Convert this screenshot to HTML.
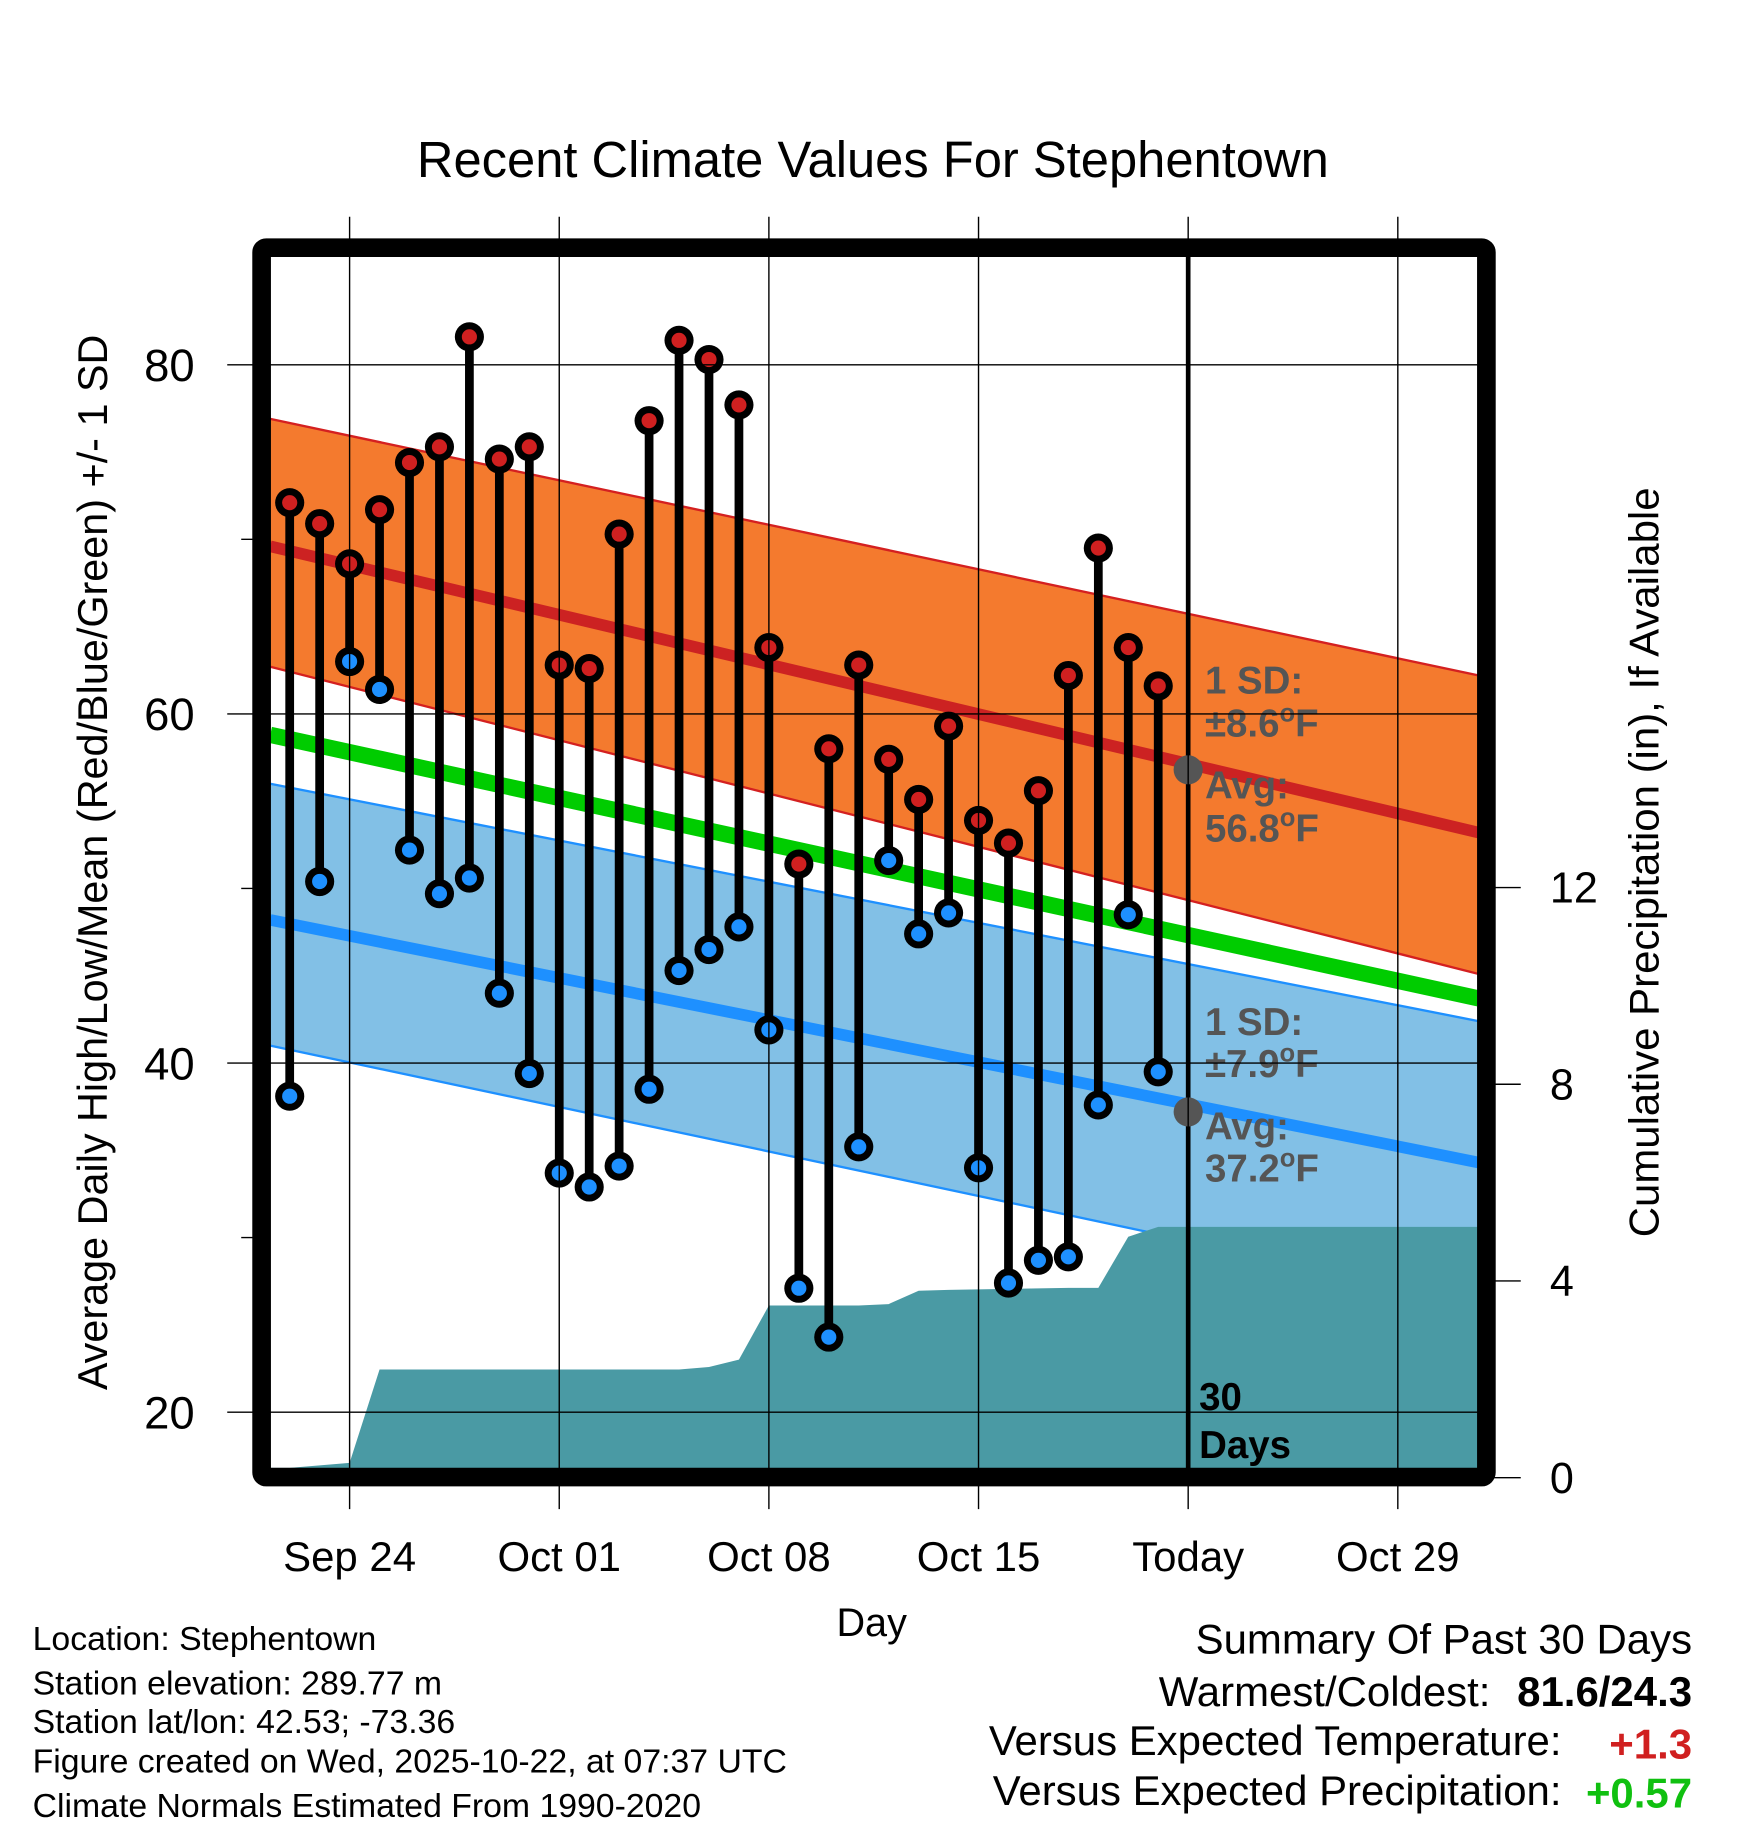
<!DOCTYPE html>
<html><head><meta charset="utf-8"><style>
html,body{margin:0;padding:0;background:#fff;}
svg{display:block;font-family:"Liberation Sans",Arial,sans-serif;}
</style></head><body>
<svg id="chart" width="1748" height="1828" viewBox="0 0 1500 1568.6" xmlns="http://www.w3.org/2000/svg">
<defs><clipPath id="plotclip"><rect x="232" y="220" width="1036" height="1040"/></clipPath></defs>
<text x="749" y="152" font-size="43.5" text-anchor="middle">Recent Climate Values For Stephentown</text>
<g id="plot" clip-path="url(#plotclip)"></g>
<g id="axes"></g>
<rect x="224.5" y="212.5" width="1051" height="1055" fill="none" stroke="#000" stroke-width="16" rx="4"/>
<text x="748" y="1404" font-size="34" text-anchor="middle">Day</text>
<text transform="translate(92,740) rotate(-90)" font-size="35.5" text-anchor="middle">Average Daily High/Low/Mean (Red/Blue/Green) +/- 1 SD</text>
<text transform="translate(1423,740) rotate(-90)" font-size="36" text-anchor="middle">Cumulative Precipitation (in), If Available</text>
<g font-size="29">
<text x="28" y="1416">Location: Stephentown</text>
<text x="28" y="1454">Station elevation: 289.77 m</text>
<text x="28" y="1487">Station lat/lon: 42.53; -73.36</text>
<text x="28" y="1521">Figure created on Wed, 2025-10-22, at 07:37 UTC</text>
<text x="28" y="1559">Climate Normals Estimated From 1990-2020</text>
</g>
<g font-size="36" text-anchor="end">
<text x="1452" y="1419">Summary Of Past 30 Days</text>
<text x="1279" y="1464">Warmest/Coldest:</text>
<text x="1452" y="1464" font-weight="bold">81.6/24.3</text>
<text x="1340" y="1506">Versus Expected Temperature:</text>
<text x="1452" y="1509" font-weight="bold" fill="#d02020">+1.3</text>
<text x="1340" y="1549">Versus Expected Precipitation:</text>
<text x="1452" y="1551" font-weight="bold" fill="#10c010">+0.57</text>
</g>
<script>
// day index: 0 = Sep 24
const days = [-2,-1,0,1,2,3,4,5,6,7,8,9,10,11,12,13,14,15,16,17,18,19,20,21,22,23,24,25,26,27];
const highs = [72.1,70.9,68.6,71.7,74.4,75.3,81.6,74.6,75.3,62.8,62.6,70.3,76.8,81.4,80.3,77.7,63.8,51.4,58.0,62.8,57.4,55.1,59.3,53.9,52.6,55.6,62.2,69.5,63.8,61.6];
const lows = [38.1,50.4,63.0,61.4,52.2,49.7,50.6,44.0,39.4,33.7,32.9,34.1,38.5,45.3,46.5,47.8,41.9,27.1,24.3,35.2,51.6,47.4,48.6,34.0,27.4,28.7,28.9,37.6,48.5,39.5];
const precip = [0.2,0.25,0.3,2.2,2.2,2.2,2.2,2.2,2.2,2.2,2.2,2.2,2.2,2.2,2.25,2.4,3.5,3.5,3.5,3.5,3.53,3.8,3.82,3.83,3.84,3.85,3.86,3.86,4.9,5.1];
const normDays = [-2.65, 37.7];
const hiAvg = [69.6, 53.2];
const hiUpper = [76.9, 62.2];
const hiLower = [62.7, 45.1];
const meanAvg = [58.8, 43.7];
const loAvg = [48.2, 34.3];
const loUpper = [56.0, 42.4];
const loLower = [41.0, 26.3];
const xTickDays = [0,7,14,21,28,35];
const xTickLabels = ["Sep 24","Oct 01","Oct 08","Oct 15","Today","Oct 29"];
const yTicks = [20,40,60,80];
const yMinor = [30,50,70];
const pTicks = [0,4,8,12];
const todayDay = 28;
const todayHiAvg = 56.8, todayLoAvg = 37.2;
const hiSD = 8.6, loSD = 7.9;

const NS="http://www.w3.org/2000/svg";
const X=d=>300+d*25.7;
const Y=t=>313+(80-t)*14.98;
const YP=p=>1268-p*42.2;
const plot=document.getElementById('plot'), axes=document.getElementById('axes');
function mk(tag,attrs,parent){const e=document.createElementNS(NS,tag);for(const k in attrs)e.setAttribute(k,attrs[k]);parent.appendChild(e);return e;}
function band(up,lo,fill,edge,name){
  const pts=normDays.map((d,i)=>X(d)+','+Y(up[i])).concat(normDays.map((d,i)=>X(d)+','+Y(lo[i])).reverse());
  const p=mk('polygon',{points:pts.join(' '),fill:fill},plot);
  
  
  [up,lo].forEach(a=>{const l=mk('line',{x1:X(normDays[0]),y1:Y(a[0]),x2:X(normDays[1]),y2:Y(a[1]),stroke:edge,'stroke-width':2},plot);
    
    });
}
function avgLine(a,color,w,name){
  const l=mk('line',{x1:X(normDays[0]),y1:Y(a[0]),x2:X(normDays[1]),y2:Y(a[1]),stroke:color,'stroke-width':w},plot);
  
  
}
band(hiUpper,hiLower,'#f47a2e','#d42020','high-sd-band');
band(loUpper,loLower,'#82c0e6','#1e90ff','low-sd-band');
avgLine(hiAvg,'#cc2222',10,'high-avg-line');
avgLine(meanAvg,'#00cc00',14,'mean-avg-line');
avgLine(loAvg,'#1e90ff',10,'low-avg-line');
xTickDays.forEach(d=>{const g=mk('line',{x1:X(d),y1:186,x2:X(d),y2:1295,stroke:'#000','stroke-width':1.2},axes);
  
  });
yTicks.forEach(t=>{const g=mk('line',{x1:195,y1:Y(t),x2:1268,y2:Y(t),stroke:'#000','stroke-width':1.2},axes);
  
  
  const tx=mk('text',{x:167,y:Y(t)+14,'font-size':39,'text-anchor':'end'},axes);tx.textContent=t;
  
  });
yMinor.forEach(t=>{const g=mk('line',{x1:207,y1:Y(t),x2:224,y2:Y(t),stroke:'#000','stroke-width':1.2},axes);
  
  });
pTicks.forEach(p=>{const g=mk('line',{x1:1280,y1:YP(p),x2:1305,y2:YP(p),stroke:'#000','stroke-width':1.2},axes);
  
  
  const tx=mk('text',{x:1330,y:YP(p)+13,'font-size':37},axes);tx.textContent=p;
  
  });
xTickDays.forEach((d,i)=>{const tx=mk('text',{x:X(d),y:1348,'font-size':36,'text-anchor':'middle'},axes);tx.textContent=xTickLabels[i];
  
  });
let pp=[X(normDays[0])+','+YP(precip[0])];
days.forEach((d,i)=>pp.push(X(d)+','+YP(precip[i])));
pp.push(X(normDays[1])+','+YP(precip[precip.length-1]));
pp.push(X(normDays[1])+',1300');pp.push(X(normDays[0])+',1300');
const pa=mk('polygon',{points:pp.join(' '),fill:'#4a9aa4'},plot);


const tl=mk('line',{x1:X(todayDay),y1:220,x2:X(todayDay),y2:1262,stroke:'#000','stroke-width':4},plot);


days.forEach((d,i)=>{
  const s=mk('line',{x1:X(d),y1:Y(highs[i]),x2:X(d),y2:Y(lows[i]),stroke:'#000','stroke-width':7.5},plot);
  
  
});
days.forEach((d,i)=>{
  [[highs[i],'#d02020','high-dot'],[lows[i],'#1e90ff','low-dot']].forEach(([v,c,n])=>{
    const o=mk('circle',{cx:X(d),cy:Y(v),r:12.5,fill:'#000'},plot);
    
    
    mk('circle',{cx:X(d),cy:Y(v),r:6.5,fill:c},plot);
  });
});
[todayHiAvg,todayLoAvg].forEach(v=>{const c=mk('circle',{cx:X(todayDay),cy:Y(v),r:12.5,fill:'#555'},plot);
  
  });
function line(txt,y,deg){
  const tx=mk('text',{x:1034,y:y,'font-size':33,'font-weight':'bold',fill:'#555'},plot);
  
  
  const a=mk('tspan',{},tx);a.textContent=txt;
  if(deg){const o=mk('tspan',{dy:-13,'font-size':22},tx);o.textContent='o';
    const f=mk('tspan',{dy:13},tx);f.textContent='F';}
}
line('1 SD:',595,false);line('±'+hiSD.toFixed(1),632,true);line('Avg:',685,false);line(todayHiAvg.toFixed(1),722,true);
line('1 SD:',888,false);line('±'+loSD.toFixed(1),924,true);line('Avg:',978,false);line(todayLoAvg.toFixed(1),1014,true);
[['30',1210],['Days',1251]].forEach(([t,y])=>{const tx=mk('text',{x:1029,y:y,'font-size':33,'font-weight':'bold',fill:'#000'},plot);tx.textContent=t;
  
  });
</script>
</svg>
</body></html>
